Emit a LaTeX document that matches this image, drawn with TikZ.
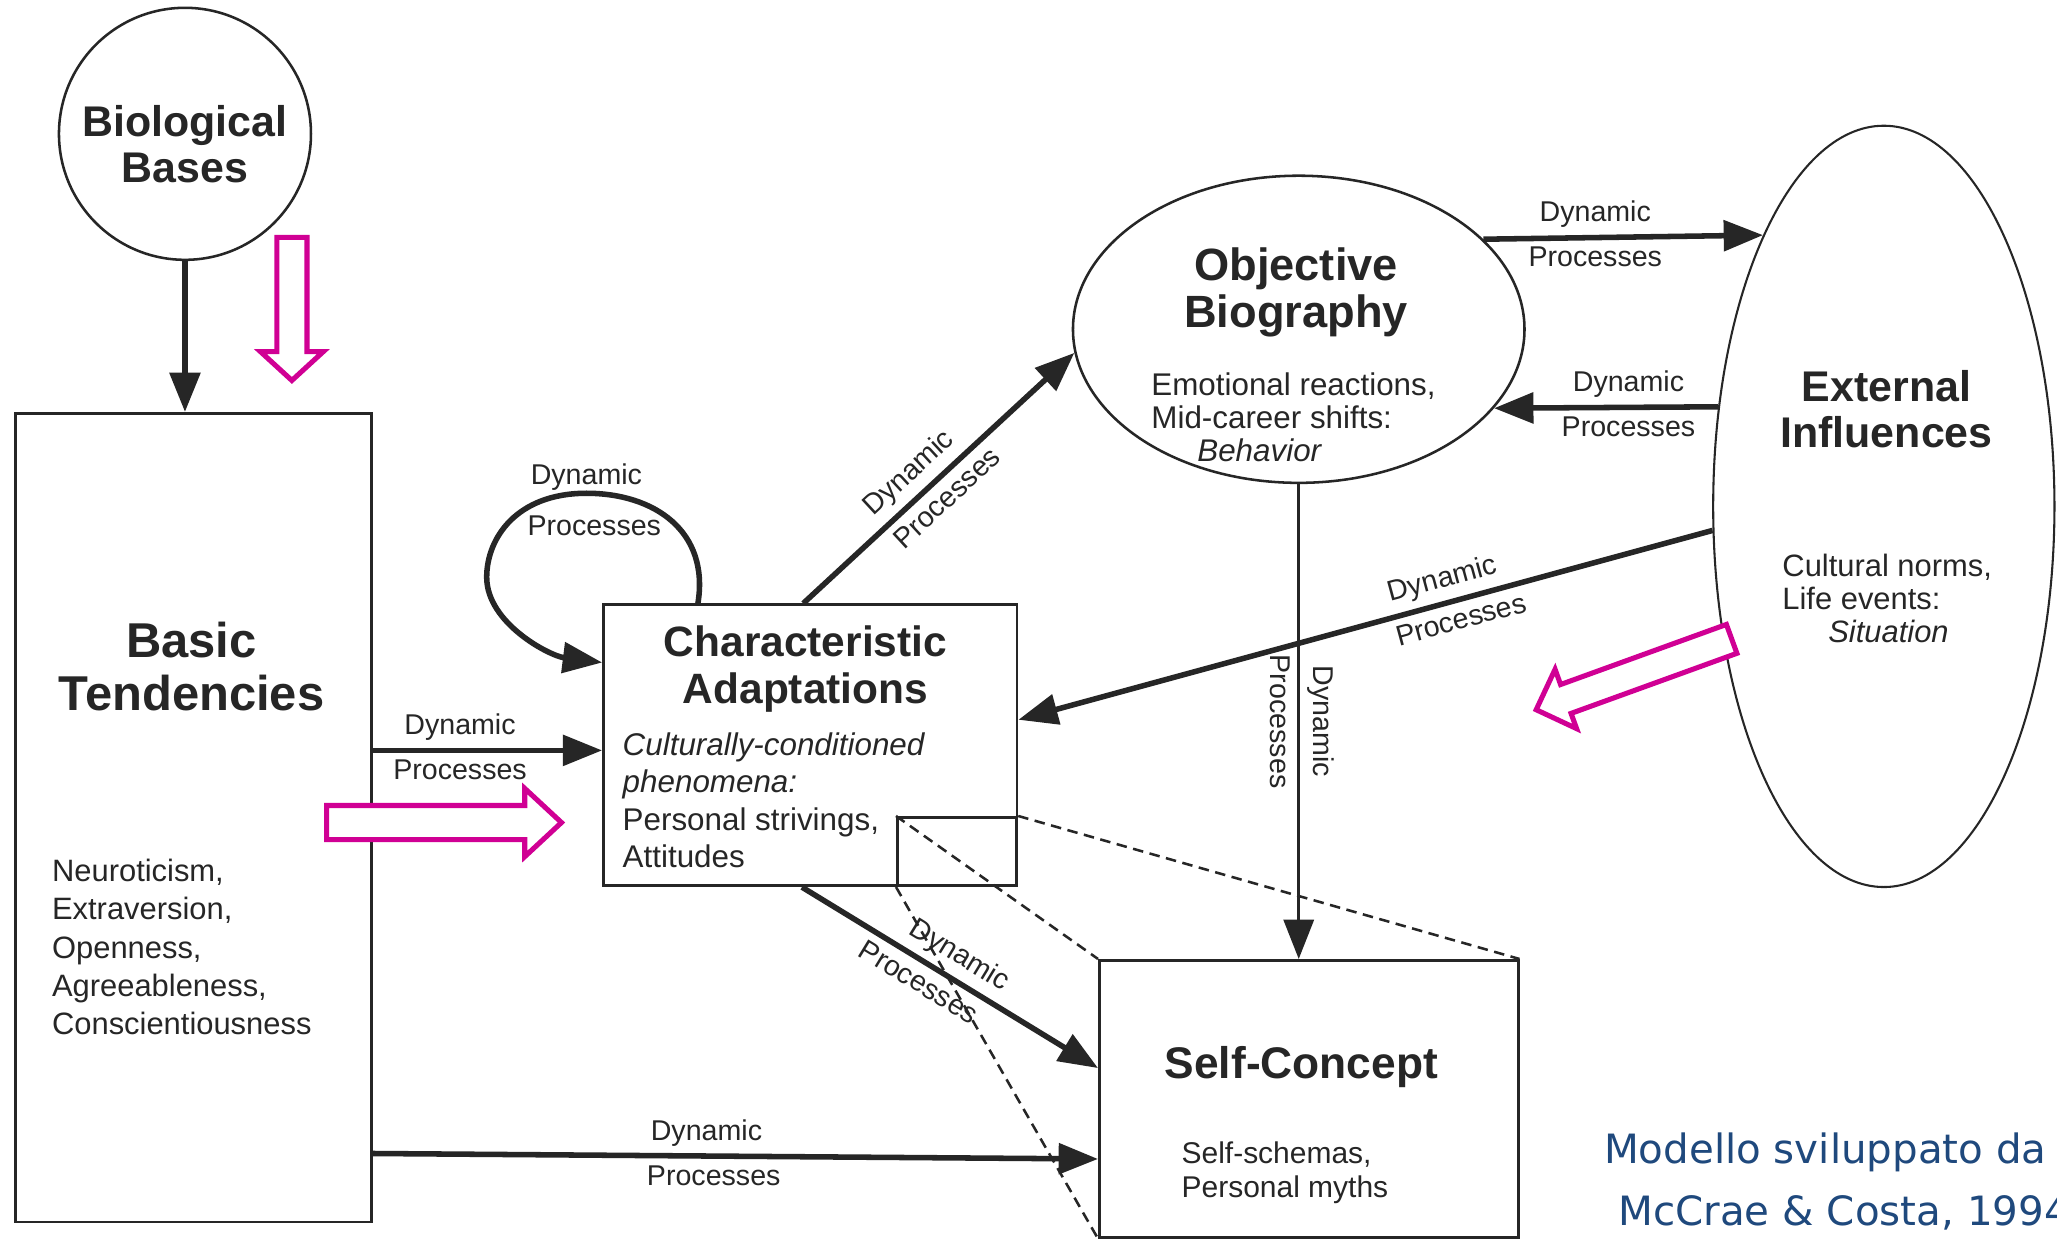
\documentclass[tikz,border=0pt]{standalone}
\usepackage{fontspec}
\setmainfont{Liberation Sans}
\newfontfamily\capfont{DejaVu Sans}
\usetikzlibrary{arrows.meta,shapes.geometric,calc}
\definecolor{ink}{RGB}{38,38,38}
\definecolor{mag}{RGB}{208,0,148}
\definecolor{capblue}{RGB}{31,73,125}
\newcommand{\myfs}[2]{\fontsize{#1}{#2}\selectfont}
\begin{document}
\begin{tikzpicture}[x=0.01cm, y=-0.01cm,
  box/.style={draw=ink, line width=0.6pt, inner sep=0pt, anchor=north west},
  oval/.style={ellipse, draw=ink, line width=0.55pt, inner sep=0pt},
  conn/.style={draw=ink, line width=1.2pt, -{Triangle[length=0.3cm,width=0.23cm]}},
  lbl/.style={font=\myfs{6.2}{7}, text=ink, inner sep=1.5pt},
  ttl/.style={font=\bfseries\myfs{9.5}{10.5}, text=ink, align=center, inner sep=0pt},
  bdy/.style={font=\myfs{6.8}{8.1}, text=ink, align=left, anchor=west, inner sep=0pt},
  hollow/.style={draw=mag, line width=1.1pt, line join=miter, fill=white},
  dsh/.style={draw=ink, line width=0.55pt, dash pattern=on 0.08cm off 0.05cm}
]
\useasboundingbox (0,0) rectangle (1568,944.4);
\clip (0,0) rectangle (1568,944.4);
\fill[white] (0,0) rectangle (1568,944.4);

% main shapes
\node[circle, draw=ink, line width=0.55pt, inner sep=0pt, minimum size=1.92cm] (bio) at (141,102) {};
\node[box, minimum width=2.71cm, minimum height=6.16cm] (bt) at (11,314) {};
\node[box, minimum width=3.15cm, minimum height=2.14cm] (ca) at (459,460) {};
\node[box, minimum width=0.91cm, minimum height=0.52cm] (sb) at (683,622) {};
\node[oval, minimum width=3.44cm, minimum height=2.34cm] (ob) at (990,251) {};
\node[oval, line width=0.45pt, minimum width=2.6cm, minimum height=5.8cm] (ei) at (1436,386) {};
\node[box, minimum width=3.19cm, minimum height=2.11cm] (sc) at (837,731) {};

% texts
\node[ttl, font=\bfseries\myfs{9.3}{10}] (biot) at (141,110) {Biological\\Bases};
\node[ttl, font=\bfseries\myfs{10.6}{11.4}] (btt) at (146,508) {Basic\\Tendencies};
\node[bdy, font=\myfs{6.7}{8.3}] (btl) at (39,722) {Neuroticism,\\Extraversion,\\Openness,\\Agreeableness,\\Conscientiousness};
\node[ttl, font=\bfseries\myfs{9.2}{10.2}] (cat) at (614,510) {Characteristic\\Adaptations};
\node[bdy, font=\myfs{6.8}{8.1}] (cab) at (474,610) {\textit{Culturally-conditioned}\\\textit{phenomena:}\\Personal strivings,\\Attitudes};
\node[ttl, font=\bfseries\myfs{9.8}{10.2}] (obt) at (988,223) {Objective\\Biography};
\node[bdy, font=\myfs{6.8}{7.1}] (obb) at (877,318) {Emotional reactions,\\Mid-career shifts:\\\hspace*{0.35cm}\textit{Behavior}};
\node[ttl, font=\bfseries\myfs{9.3}{10}] (eit) at (1438,312) {External\\Influences};
\node[bdy, font=\myfs{6.7}{7.2}] (eib) at (1358,456) {Cultural norms,\\Life events:\\\hspace*{0.35cm}\textit{Situation}};
\node[ttl, font=\bfseries\myfs{9.6}{10}] (sct) at (992,813) {Self-Concept};
\node[bdy, font=\myfs{6.5}{7.4}] (scb) at (900,894) {Self-schemas,\\Personal myths};

% dashed zoom lines
\draw[dsh] (sb.north west) -- (sc.north west);
\draw[dsh] (sb.south west) -- (sc.south west);
\draw[dsh] (sb.north east) -- (sc.north east);

% connectors
\draw[conn] (bio.south) -- (bio.south |- bt.north);

\coordinate (c1) at (0,572);
\draw[conn] (bt.east |- c1) -- (ca.west |- c1)
  node[lbl,pos=0.38,above]{Dynamic} node[lbl,pos=0.38,below]{Processes};

\draw[conn] ($(ca.north west)!0.483!(ca.north east)$) -- (ob.186)
  node[lbl,pos=0.45,sloped,above]{Dynamic} node[lbl,pos=0.48,sloped,below]{Processes};

\draw[conn] (ob.26) -- (ei.114.5)
  node[lbl,pos=0.4,above]{Dynamic} node[lbl,pos=0.4,below]{Processes};

\draw[conn] (ei.149) -- (ob.338)
  node[lbl,pos=0.4,above]{Dynamic} node[lbl,pos=0.4,below]{Processes};

\draw[conn] (ei.188) -- ($(ca.north east)!0.41!(ca.south east)$)
  node[lbl,pos=0.38,sloped,above]{Dynamic} node[lbl,pos=0.37,sloped,below]{Processes};

\draw[conn, line width=0.65pt] (ob.south) -- (ob.south |- sc.north)
  node[lbl,pos=0.5,rotate=-90,anchor=south]{Dynamic}
  node[lbl,pos=0.5,rotate=-90,anchor=north]{Processes};

\draw[conn] ($(ca.south west)!0.48!(ca.south east)$) -- ($(sc.north west)!0.39!(sc.south west)$)
  node[lbl,pos=0.49,sloped,above]{Dynamic} node[lbl,pos=0.43,sloped,below]{Processes};

\draw[conn] ($(bt.north east)!0.914!(bt.south east)$) -- ($(sc.north west)!0.715!(sc.south west)$)
  node[lbl,pos=0.46,above]{Dynamic} node[lbl,pos=0.47,below]{Processes};

% self loop on Characteristic Adaptations
\draw[conn] ($(ca.north west)+(73,0)$)
  .. controls ($(ca.north west)+(82,-55)$) and ($(ca.north west)+(40,-84)$) .. ($(ca.north west)+(-12,-84)$)
  .. controls ($(ca.north west)+(-65,-84)$) and ($(ca.north west)+(-88,-50)$) .. ($(ca.north west)+(-88,-20)$)
  .. controls ($(ca.north west)+(-88,15)$) and ($(ca.north west)+(-40,40)$) .. ($(ca.north west)+(0,45)$);
\node[lbl] (lpd) at (447,364) {Dynamic};
\node[lbl] (lpp) at (453,401) {Processes};

% magenta hollow arrows
\draw[hollow] (211,181) -- (211,268) -- (198.5,268) -- (222.5,290) -- (246.5,268) -- (234,268) -- (234,181) -- cycle;
\draw[hollow] (249,614) -- (400,614) -- (400,601) -- (428,627) -- (400,653) -- (400,640) -- (249,640) -- cycle;
\draw[hollow] (1316,476) -- (1189.6,521.8) -- (1185.4,510.2) -- (1171,541) -- (1201.8,555.4) -- (1197.6,543.8) -- (1324,498) -- cycle;

% caption
\node[anchor=base west, font=\capfont\myfs{8.75}{10}, text=capblue, inner sep=0pt] (cap1) at (1222,887) {Modello sviluppato da};
\node[anchor=base west, font=\capfont\myfs{8.75}{10}, text=capblue, inner sep=0pt] (cap2) at (1233,934) {McCrae \& Costa, 1994};
\end{tikzpicture}
\end{document}
